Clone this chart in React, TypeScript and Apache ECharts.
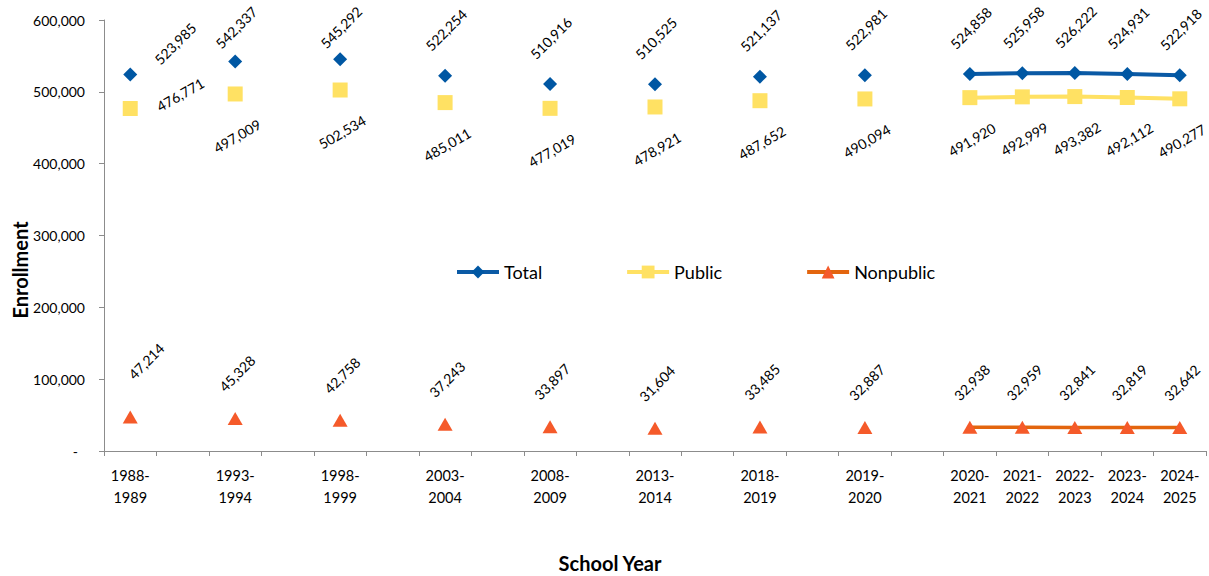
import React, { useEffect, useRef } from "react";
import * as echarts from "echarts";

// School years: the first group is spaced with an empty slot after each, the recent group is consecutive
const spacedYears = ["1988-1989", "1993-1994", "1998-1999", "2003-2004", "2008-2009", "2013-2014", "2018-2019", "2019-2020"];
const recentYears = ["2020-2021", "2021-2022", "2022-2023", "2023-2024", "2024-2025"];

const totalValues = [523985, 542337, 545292, 522254, 510916, 510525, 521137, 522981, 524858, 525958, 526222, 524931, 522918];
const publicValues = [476771, 497009, 502534, 485011, 477019, 478921, 487652, 490094, 491920, 492999, 493382, 492112, 490277];
const nonpublicValues = [47214, 45328, 42758, 37243, 33897, 31604, 33485, 32887, 32938, 32959, 32841, 32819, 32642];

const yMin = 0;
const yMax = 600000;
const yInterval = 100000;

const FONT = "Lato, 'Open Sans', sans-serif";

// label placement (offset from marker centre, rotation) — layout only
const totalLabelDefault = { dx: 1, dy: -46, rot: 45 };
const totalLabelOverrides: Record<number, { dx: number; dy: number; rot: number }> = {
  0: { dx: 45, dy: -31, rot: 45 },
  1: { dx: 1, dy: -34, rot: 45 },
  2: { dx: 1, dy: -32, rot: 45 },
};
const publicLabelDefault = { dx: 2, dy: 42, rot: 30 };
const publicLabelOverrides: Record<number, { dx: number; dy: number; rot: number }> = {
  0: { dx: 50, dy: -14, rot: 30 },
};
const nonLabelDefault = { dx: 2, dy: -45, rot: 45 };
const nonLabelOverrides: Record<number, { dx: number; dy: number; rot: number }> = {
  0: { dx: 16, dy: -56, rot: 45 },
};

const categories: string[] = [];
const slotOfPoint: number[] = [];
spacedYears.forEach((y) => {
  slotOfPoint.push(categories.length);
  categories.push(y.replace("-", "-\n"));
  categories.push("");
});
recentYears.forEach((y) => {
  slotOfPoint.push(categories.length);
  categories.push(y.replace("-", "-\n"));
});

const fmt = (v: number) => v.toLocaleString("en-US");

type Off = { dx: number; dy: number; rot: number };

function toSlots(values: number[], size: [number, number], def: Off, over: Record<number, Off>) {
  const arr: any[] = categories.map(() => null);
  values.forEach((v, i) => {
    const o = over[i] || def;
    arr[slotOfPoint[i]] = {
      value: v,
      label: {
        position: [size[0] / 2 + o.dx, size[1] / 2 + o.dy],
        rotate: o.rot,
        align: "center",
        verticalAlign: "middle",
      },
    };
  });
  return arr;
}

export default function App() {
  const ref = useRef<HTMLDivElement>(null);
  useEffect(() => {
    if (!ref.current) return;
    const chart = echarts.init(ref.current, undefined, { renderer: "svg" });

    const labelBase = {
      show: true,
      color: "#000",
      fontFamily: FONT,
      fontSize: 14,
      formatter: (p: any) => fmt(p.value),
    };

    const totalSize: [number, number] = [14, 14];
    const publicSize: [number, number] = [15, 15];
    const nonSize: [number, number] = [15, 13];

    const option: any = {
      animation: false,
      backgroundColor: "#fff",
      textStyle: { fontFamily: FONT },
      grid: { left: 104, right: 3, top: 20, bottom: 125, containLabel: false },
      legend: {
        left: 450,
        top: 258,
        itemWidth: 42,
        itemHeight: 16,
        itemGap: 83,
        lineStyle: { width: 4 },
        textStyle: { fontFamily: FONT, fontSize: 18, color: "#000" },
        data: ["Total", "Public", "Nonpublic"],
      },
      xAxis: {
        type: "category",
        data: categories,
        boundaryGap: true,
        axisLine: { lineStyle: { color: "#8c8c8c", width: 1 } },
        axisTick: { show: true, interval: 0, length: 5, lineStyle: { color: "#8c8c8c" } },
        axisLabel: {
          interval: 0,
          color: "#000",
          fontFamily: FONT,
          fontSize: 14.5,
          lineHeight: 22,
          margin: 13,
        },
        splitLine: { show: false },
      },
      yAxis: {
        type: "value",
        min: yMin,
        max: yMax,
        interval: yInterval,
        axisLine: { show: true, lineStyle: { color: "#8c8c8c", width: 1 } },
        axisTick: { show: true, length: 5, lineStyle: { color: "#8c8c8c" } },
        splitLine: { show: false },
        axisLabel: {
          color: "#000",
          fontFamily: FONT,
          fontSize: 14,
          margin: 19,
          formatter: (v: number) => (v === 0 ? "{d|-}" : fmt(v)),
          rich: { d: { padding: [0, 7, 0, 0], color: "#000", fontFamily: FONT, fontSize: 14 } },
        },
      },
      graphic: [
        {
          type: "text",
          x: 20,
          y: 270,
          rotation: Math.PI / 2,
          style: {
            text: "Enrollment",
            fontFamily: FONT,
            fontWeight: "bold",
            fontSize: 20,
            fill: "#000",
            align: "center",
            verticalAlign: "middle",
          },
        },
        {
          type: "text",
          x: 610,
          y: 563,
          style: {
            text: "School Year",
            fontFamily: FONT,
            fontWeight: "bold",
            fontSize: 20,
            fill: "#000",
            align: "center",
            verticalAlign: "middle",
          },
        },
      ],
      series: [
        {
          name: "Total",
          type: "line",
          connectNulls: false,
          showAllSymbol: true,
          symbol: "diamond",
          symbolSize: totalSize,
          itemStyle: { color: "#0057A3" },
          lineStyle: { color: "#0B5AA5", width: 4 },
          label: labelBase,
          data: toSlots(totalValues, totalSize, totalLabelDefault, totalLabelOverrides),
          z: 3,
        },
        {
          name: "Public",
          type: "line",
          connectNulls: false,
          showAllSymbol: true,
          symbol: "rect",
          symbolSize: publicSize,
          itemStyle: { color: "#FFE163" },
          lineStyle: { color: "#FFE163", width: 4 },
          label: labelBase,
          data: toSlots(publicValues, publicSize, publicLabelDefault, publicLabelOverrides),
          z: 2,
        },
        {
          name: "Nonpublic",
          type: "line",
          connectNulls: false,
          showAllSymbol: true,
          symbol: "triangle",
          symbolSize: nonSize,
          itemStyle: { color: "#F55A2A" },
          lineStyle: { color: "#E3650E", width: 3.5 },
          label: labelBase,
          data: toSlots(nonpublicValues, nonSize, nonLabelDefault, nonLabelOverrides),
          z: 2,
        },
      ],
    };

    chart.setOption(option);
    return () => chart.dispose();
  }, []);

  return (
    <div
      ref={ref}
      style={{ position: "fixed", left: 0, top: 0, width: 1209, height: 576, background: "#fff" }}
    />
  );
}
